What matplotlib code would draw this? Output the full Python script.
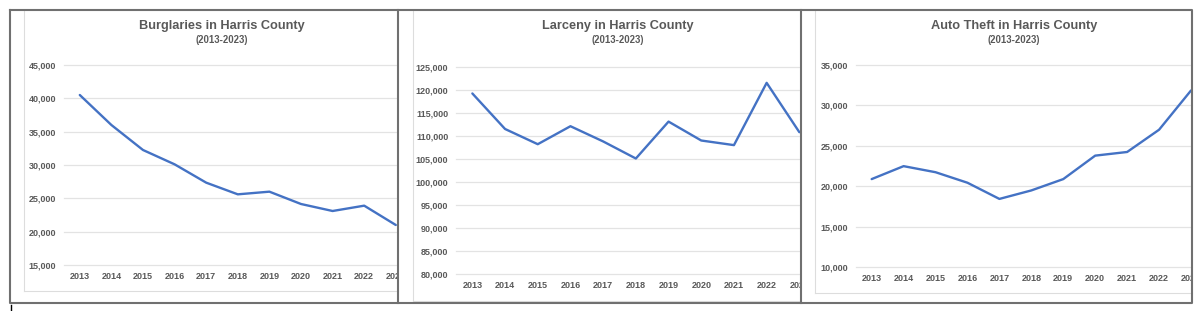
import matplotlib
matplotlib.use('Agg')
import matplotlib.pyplot as plt
from matplotlib.transforms import Bbox, TransformedBbox
from matplotlib.ticker import FuncFormatter

plt.rcParams['font.family'] = ['Liberation Sans', 'DejaVu Sans']

# Дані
years = ['2013', '2014', '2015', '2016', '2017', '2018', '2019', '2020', '2021', '2022', '2023']
burglaries = [40500, 36000, 32250, 30100, 27350, 25600, 26000, 24150, 23100, 23900, 21000]
larceny = [119200, 111500, 108200, 112100, 108800, 105100, 113100, 109000, 108000, 121500, 110800]
auto_theft = [20900, 22500, 21750, 20450, 18450, 19500, 20900, 23800, 24250, 27000, 31850]

titles = ['Burglaries in Harris County', 'Larceny in Harris County', 'Auto Theft in Harris County']
subtitle = '(2013-2023)'

W, H = 1200, 311
fig = plt.figure(figsize=(W / 100, H / 100), dpi=100)
fig.patch.set_facecolor('white')


def fx(x):
    return x / W


def fy(y):
    return 1 - y / H


def panel_box(x0, x1, y0, y1):
    return TransformedBbox(Bbox([[fx(x0), fy(y1)], [fx(x1), fy(y0)]]), fig.transFigure)


txt_color = '#595959'
grid_color = '#E3E3E3'
line_color = '#4472C4'

# (дані, межі осі y, ліво, право, верх, низ, крок, межі панелі, центр заголовка)
panels = [
    (burglaries, (15000, 45000), 64, 397.7, 65, 265, 31.6, (10, 397.7), 222),
    (larceny, (80000, 125000), 456, 801, 66.7, 274.3, 32.7, (398, 801), 618),
    (auto_theft, (10000, 35000), 855.7, 1191, 65, 267.3, 32.1, (801, 1191.7), 1014),
]

for i, (vals, ylim, left, right, top, bottom, step, (bx0, bx1), tx) in enumerate(panels):
    ax = fig.add_axes([fx(left), fy(bottom), fx(right) - fx(left), fy(top) - fy(bottom)])
    ax.set_facecolor('none')
    clip = panel_box(bx0, bx1, 10, 303)

    ax.plot(range(len(years)), vals, color=line_color, linewidth=1.7,
            solid_capstyle='round', solid_joinstyle='round', zorder=3)

    ax.set_xlim(-0.5, (right - left) / step - 0.5)
    ax.set_ylim(*ylim)
    ax.set_yticks(range(ylim[0], ylim[1] + 1, 5000))
    ax.yaxis.set_major_formatter(FuncFormatter(lambda v, p: f'{int(v):,}'))
    ax.set_xticks(range(len(years)), years)

    ax.tick_params(length=0, labelsize=6.5, labelcolor=txt_color)
    ax.tick_params(axis='y', pad=5.5)
    ax.tick_params(axis='x', pad=5)
    for lbl in ax.get_xticklabels() + ax.get_yticklabels():
        lbl.set_fontweight('bold')
        lbl.set_clip_box(clip)
        lbl.set_clip_on(True)

    ax.grid(axis='y', color=grid_color, linewidth=0.9)
    for gl in ax.get_ygridlines():
        gl.set_clip_box(clip)
    for s in ax.spines.values():
        s.set_visible(False)

    fig.text(fx(tx), fy(26), titles[i], ha='center', va='center',
             fontsize=9.2, fontweight='bold', color=txt_color)
    fig.text(fx(tx), fy(40), subtitle, ha='center', va='center',
             fontsize=6.9, fontweight='bold', color=txt_color)

# Рамки
ov = fig.add_axes([0, 0, 1, 1], zorder=10)
ov.set_xlim(0, W)
ov.set_ylim(H, 0)
ov.axis('off')
ov.patch.set_alpha(0)

inner = '#DDDDDD'
ov.plot([24, 24], [10, 291], color=inner, lw=0.8)
ov.plot([24, 397.7], [291, 291], color=inner, lw=0.8)
ov.plot([413, 413], [10, 301], color=inner, lw=0.8)
ov.plot([413, 801], [301, 301], color=inner, lw=0.8)
ov.plot([815, 815], [10, 293], color=inner, lw=0.8)
ov.plot([815, 1191.7], [293, 293], color=inner, lw=0.8)

frame = '#707070'
ov.plot([10, 1191.7, 1191.7, 10, 10], [10, 10, 302.7, 302.7, 10], color=frame, lw=1.5)
ov.plot([397.7, 397.7], [10, 302.7], color=frame, lw=1.5)
ov.plot([801, 801], [10, 302.7], color=frame, lw=1.5)
ov.plot([10.5, 10.5], [305, 311], color='black', lw=1)

plt.savefig('out.png', dpi=100)
